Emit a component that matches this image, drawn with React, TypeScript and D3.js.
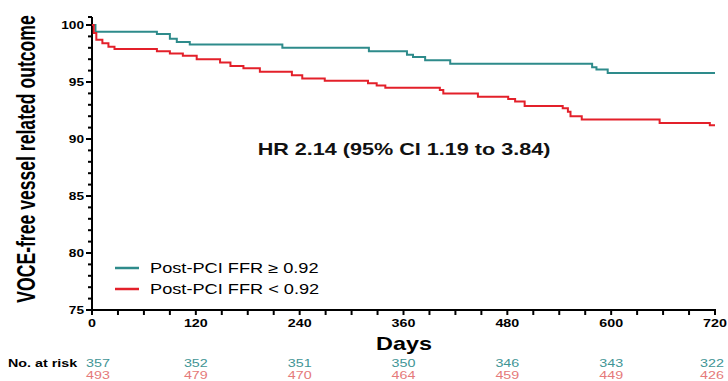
import React, { useEffect, useRef } from "react";
import * as d3 from "d3";

// Kaplan-Meier steps: [day, % free of VOCE]
const highFfr: [number, number][] = [
  [0, 100], [4, 99.4], [75, 99.2], [90, 98.8], [98, 98.5], [113, 98.3],
  [220, 98.0], [320, 97.7], [364, 97.4], [371, 97.2], [385, 96.9], [414, 96.6],
  [578, 96.3], [583, 96.1], [596, 95.8], [720, 95.8],
];
const lowFfr: [number, number][] = [
  [0, 100], [2, 99.3], [5, 98.7], [12, 98.4], [19, 98.1], [26, 97.9],
  [75, 97.7], [90, 97.5], [105, 97.3], [121, 97.0], [148, 96.7], [160, 96.4],
  [175, 96.2], [194, 95.9], [231, 95.6], [243, 95.3], [269, 95.1], [319, 94.9],
  [329, 94.7], [339, 94.5], [402, 94.3], [406, 94.0], [446, 93.7], [481, 93.5],
  [489, 93.3], [500, 92.9], [544, 92.7], [550, 92.4], [553, 92.0], [566, 91.7],
  [656, 91.4], [714, 91.2], [720, 91.2],
];

const xTicks = [0, 120, 240, 360, 480, 600, 720];
const yTicks = [75, 80, 85, 90, 95, 100];
const atRiskHigh = [357, 352, 351, 350, 346, 343, 322];
const atRiskLow = [493, 479, 470, 464, 459, 449, 426];

const legend = [
  { label: "Post-PCI FFR ≥ 0.92", color: "#2e8b8b" },
  { label: "Post-PCI FFR < 0.92", color: "#e3202a" },
];
const hrText = "HR 2.14 (95% CI 1.19 to 3.84)";

const App: React.FC = () => {
  const ref = useRef<SVGSVGElement>(null);

  useEffect(() => {
    if (!ref.current) return;
    const svg = d3.select(ref.current);
    svg.selectAll("*").remove();

    const W = 728;
    const H = 381;
    const SX = 1.3; // the source image is stretched horizontally
    const font = "'Liberation Sans', Arial, sans-serif";
    const teal = legend[0].color;
    const red = legend[1].color;

    const x = d3.scaleLinear().domain([0, 720]).range([92, 715]);
    const y = d3.scaleLinear().domain([75, 100]).range([310, 25]);

    svg.attr("width", W).attr("height", H);
    svg.append("rect").attr("width", W).attr("height", H).attr("fill", "#fff");

    const txt = (
      tx: number,
      ty: number,
      s: string,
      size: number,
      weight: string,
      anchor: string,
      fill = "#000",
      sx = SX
    ) =>
      svg
        .append("text")
        .attr("transform", `translate(${tx},${ty}) scale(${sx},1)`)
        .attr("dy", "0.35em")
        .attr("text-anchor", anchor)
        .attr("font-family", font)
        .attr("font-size", size)
        .attr("font-weight", weight)
        .attr("fill", fill)
        .text(s);

    // axes
    const ax = svg.append("g").attr("stroke", "#000").attr("stroke-width", 2);
    ax.append("line")
      .attr("x1", x(0)).attr("x2", x(0))
      .attr("y1", y(100.7)).attr("y2", y(75) + 1);
    ax.append("line")
      .attr("x1", x(0) - 4).attr("x2", x(0))
      .attr("y1", y(100.7)).attr("y2", y(100.7));
    ax.append("line")
      .attr("x1", x(0) - 1).attr("x2", x(720) + 1)
      .attr("y1", y(75)).attr("y2", y(75));

    // y ticks, major every 5, minor every 1
    d3.range(75, 101, 1).forEach((v) => {
      const major = v % 5 === 0;
      ax.append("line")
        .attr("x1", x(0) - (major ? 6 : 4)).attr("x2", x(0))
        .attr("y1", y(v)).attr("y2", y(v));
    });
    // x ticks every 30 days
    d3.range(0, 721, 30).forEach((d) => {
      ax.append("line")
        .attr("x1", x(d)).attr("x2", x(d))
        .attr("y1", y(75)).attr("y2", y(75) + 5);
    });

    yTicks.forEach((v) => txt(x(0) - 8, y(v), String(v), 10.5, "bold", "end"));
    xTicks.forEach((d) => txt(x(d), 323, String(d), 11, "bold", "middle"));

    // curves
    const line = d3
      .line<[number, number]>()
      .x((d) => x(d[0]))
      .y((d) => y(d[1]))
      .curve(d3.curveStepAfter);

    [
      { data: highFfr, color: teal },
      { data: lowFfr, color: red },
    ].forEach((s) =>
      svg
        .append("path")
        .attr("d", line(s.data) || "")
        .attr("fill", "none")
        .attr("stroke", s.color)
        .attr("stroke-width", 2)
    );

    // legend
    legend.forEach((l, i) => {
      const ly = 268 + i * 21;
      svg.append("line")
        .attr("x1", 115).attr("x2", 139)
        .attr("y1", ly).attr("y2", ly)
        .attr("stroke", l.color)
        .attr("stroke-width", 2.5);
      txt(150, ly, l.label, 14, "normal", "start");
    });

    txt(404, 149, hrText, 17, "bold", "middle", "#111", 1.27);

    // axis titles
    txt(404, 344, "Days", 18, "bold", "middle");
    svg
      .append("text")
      .attr("transform", `translate(26,159) scale(1.45,1) rotate(-90)`)
      .attr("dy", "0.35em")
      .attr("text-anchor", "middle")
      .attr("font-family", font)
      .attr("font-size", 17.6)
      .attr("font-weight", "bold")
      .text("VOCE-free vessel related outcome");

    // numbers at risk
    txt(8, 363, "No. at risk", 11, "bold", "start");
    xTicks.forEach((d, i) => {
      const cx = i === 0 ? x(d) + 6 : i === xTicks.length - 1 ? x(d) - 3 : x(d);
      txt(cx, 363, String(atRiskHigh[i]), 11, "normal", "middle", "#3f9595");
      txt(cx, 375, String(atRiskLow[i]), 11, "normal", "middle", "#e57a7a");
    });
  }, []);

  return (
    <svg
      ref={ref}
      width={728}
      height={381}
      style={{ position: "absolute", left: 0, top: 0 }}
    />
  );
};

export default App;
